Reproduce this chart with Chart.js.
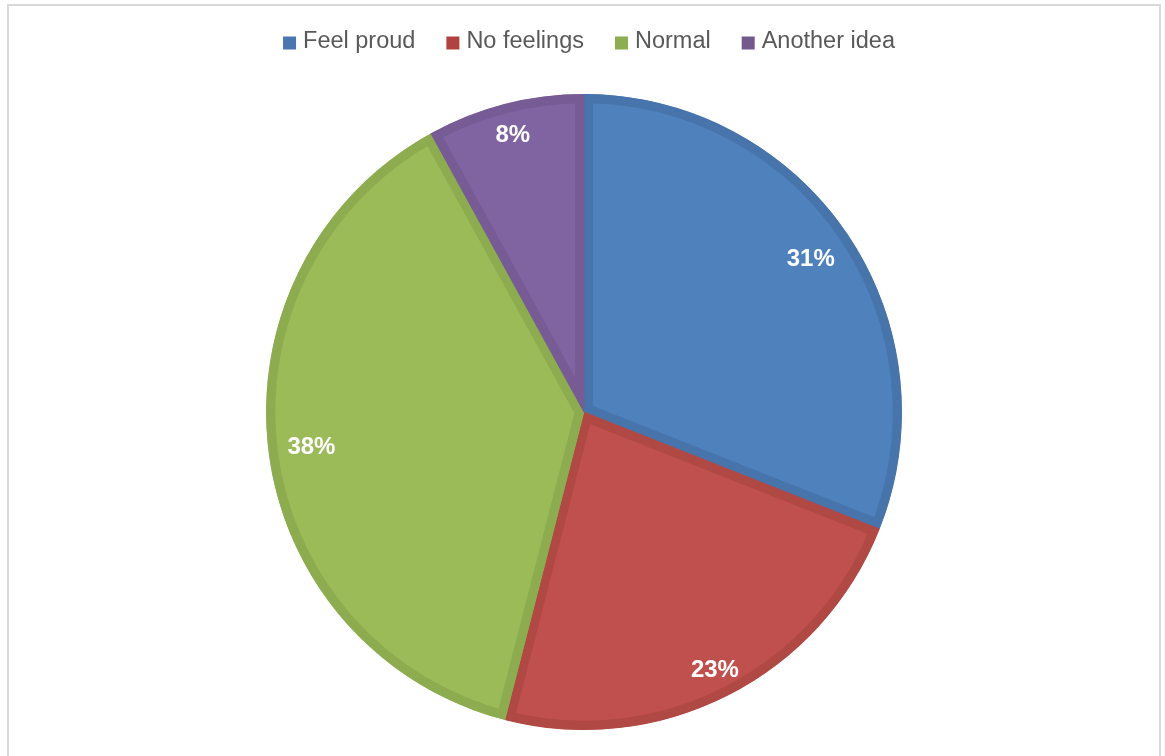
<!DOCTYPE html>
<html>
<head>
<meta charset="utf-8">
<script src="https://cdn.jsdelivr.net/npm/chart.js@4.4.1/dist/chart.umd.min.js"></script>
<style>
  html, body { margin: 0; padding: 0; background: #ffffff; overflow: hidden; }
  #wrap { position: absolute; left: 0; top: 0; width: 1165px; height: 756px; }
  #frame {
    position: absolute; left: 7px; top: 4px; width: 1154px; height: 820px;
    box-sizing: border-box; border: 2px solid #d9d9d9; pointer-events: none;
  }
  canvas { position: absolute; left: 0; top: 0; }
</style>
</head>
<body>
<div id="wrap">
  <div id="frame"></div>
  <canvas id="chart" width="1165" height="756"></canvas>
</div>
<script>
// Survey answers and their shares (percent)
const categories = ['Feel proud', 'No feelings', 'Normal', 'Another idea'];
const shares = [31, 23, 38, 8];
const valueLabels = ['31%', '23%', '38%', '8%'];

const fillColors = ['#4f81bd', '#c0504d', '#9bbb59', '#8064a2'];
const edgeColors = ['#4774ab', '#b04844', '#8dab4f', '#765b95'];
const legendColors = ['#4a77b0', '#b2423f', '#8eac50', '#74598f'];

// Legend row drawn across the top of the canvas
const topLegend = {
  id: 'topLegend',
  afterDraw(chart) {
    const ctx = chart.ctx;
    const font = '23.5px "Liberation Sans", Arial, sans-serif';
    const box = 13, boxGap = 7, itemGap = 31, midY = 42, centerX = 589;
    ctx.save();
    ctx.font = font;
    const widths = categories.map(c => ctx.measureText(c).width);
    const total = widths.reduce((s, w) => s + box + boxGap + w, 0) + itemGap * (categories.length - 1);
    let x = centerX - total / 2;
    ctx.textBaseline = 'middle';
    ctx.textAlign = 'left';
    categories.forEach((c, i) => {
      ctx.fillStyle = legendColors[i];
      ctx.fillRect(x, midY - box / 2 + 1, box, box);
      x += box + boxGap;
      ctx.fillStyle = '#595959';
      ctx.fillText(c, x, midY);
      x += widths[i] + itemGap;
    });
    ctx.restore();
  }
};

// Percentage labels placed near the outer edge of each slice
const sliceLabels = {
  id: 'sliceLabels',
  afterDatasetsDraw(chart) {
    const ctx = chart.ctx;
    const arcs = chart.getDatasetMeta(0).data;
    const depth = [0.862, 0.907, 0.864, 0.9];
    ctx.save();
    ctx.font = 'bold 24px "Liberation Sans", Arial, sans-serif';
    ctx.fillStyle = '#ffffff';
    ctx.textAlign = 'center';
    ctx.textBaseline = 'middle';
    arcs.forEach((arc, i) => {
      const p = arc.getProps(['x', 'y', 'startAngle', 'endAngle', 'outerRadius'], true);
      const mid = (p.startAngle + p.endAngle) / 2;
      const r = p.outerRadius * depth[i];
      ctx.fillText(valueLabels[i], p.x + Math.cos(mid) * r, p.y + Math.sin(mid) * r + 1);
    });
    ctx.restore();
  }
};

new Chart(document.getElementById('chart'), {
  type: 'pie',
  data: {
    labels: categories,
    datasets: [{
      data: shares,
      backgroundColor: fillColors,
      borderColor: edgeColors,
      borderWidth: 9,
      borderAlign: 'inner'
    }]
  },
  options: {
    responsive: false,
    animation: false,
    radius: 318,
    layout: { padding: { top: 70, bottom: 2, left: 3, right: 0 } },
    plugins: {
      legend: { display: false },
      tooltip: { enabled: false }
    }
  },
  plugins: [topLegend, sliceLabels]
});
</script>
</body>
</html>
